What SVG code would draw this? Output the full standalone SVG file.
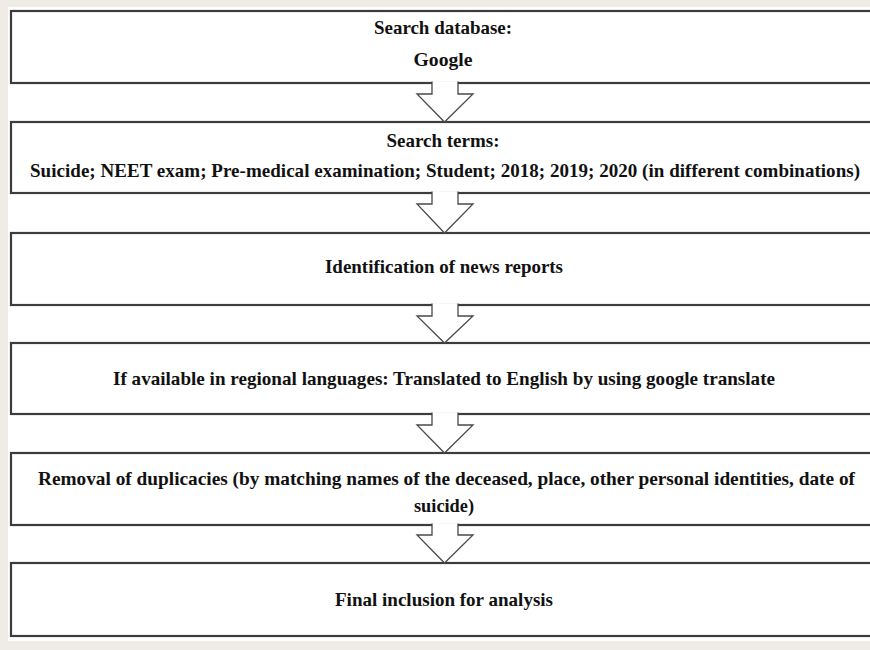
<svg xmlns="http://www.w3.org/2000/svg" width="870" height="650" viewBox="0 0 870 650">
<style>
.box{fill:#fff;stroke:#3c3c3c;stroke-width:2.2}
.arr{fill:#fff;stroke:#4a4a4a;stroke-width:1.3;stroke-linejoin:miter}
text{font-family:"Liberation Serif","Times New Roman",serif;font-weight:bold;font-size:19px;fill:#111}
</style>
<rect x="0" y="0" width="870" height="650" fill="#efebe5"/>
<rect x="8" y="7" width="862" height="634" fill="#fff"/>
<g id="n1"><rect class="box" x="11" y="11" width="870" height="72"/>
<text x="443" y="34" text-anchor="middle" textLength="138" lengthAdjust="spacingAndGlyphs">Search database:</text>
<text x="443" y="66" text-anchor="middle" textLength="59" lengthAdjust="spacingAndGlyphs">Google</text></g>
<g id="n2"><rect class="box" x="11" y="122" width="870" height="71"/>
<text x="443" y="147" text-anchor="middle" textLength="113" lengthAdjust="spacingAndGlyphs">Search terms:</text>
<text x="30" y="177" textLength="830" lengthAdjust="spacing">Suicide; NEET exam; Pre-medical examination; Student; 2018; 2019; 2020 (in different combinations)</text></g>
<g id="n3"><rect class="box" x="11" y="233" width="870" height="72"/>
<text x="325" y="273" textLength="238" lengthAdjust="spacingAndGlyphs">Identification  of news reports</text></g>
<g id="n4"><rect class="box" x="11" y="343" width="870" height="71"/>
<text x="113" y="385" textLength="662" lengthAdjust="spacingAndGlyphs">If available in regional languages: Translated to English by using google translate</text></g>
<g id="n5"><rect class="box" x="11" y="453" width="870" height="72"/>
<text x="38" y="485" textLength="817" lengthAdjust="spacingAndGlyphs">Removal of duplicacies (by matching names of the deceased, place, other personal identities, date of</text>
<text x="444" y="512" text-anchor="middle" textLength="60" lengthAdjust="spacingAndGlyphs">suicide)</text></g>
<g id="n6"><rect class="box" x="11" y="563" width="870" height="73"/>
<text x="335" y="606" textLength="218" lengthAdjust="spacingAndGlyphs">Final inclusion  for analysis</text></g>
<g id="connectors">
<path class="arr" d="M432,81.5 V94 H417 L444.5,122 L473,94 H458 V81.5"/>
<path class="arr" d="M432,191.5 V204 H417 L444.5,233 L473,204 H458 V191.5"/>
<path class="arr" d="M432,303.5 V316 H417 L444.5,343 L473,316 H458 V303.5"/>
<path class="arr" d="M432,412.5 V425 H417 L444.5,453 L473,425 H458 V412.5"/>
<path class="arr" d="M432,523.5 V535 H417 L444.5,563 L473,535 H458 V523.5"/>
</g>
</svg>
